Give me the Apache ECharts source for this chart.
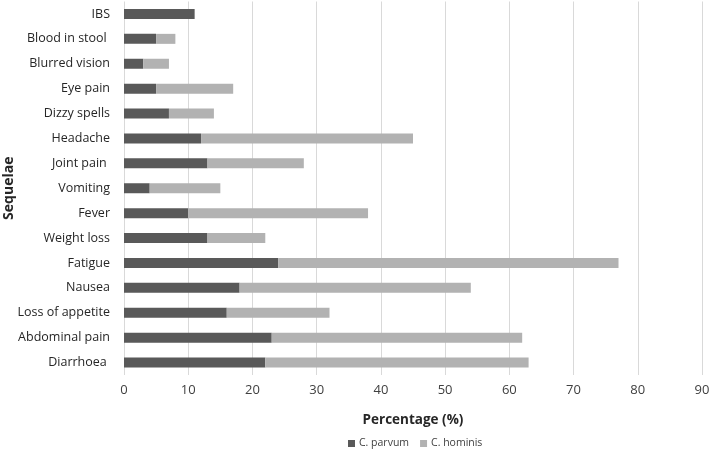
<!DOCTYPE html>
<html><head><meta charset="utf-8">
<script src="https://cdn.jsdelivr.net/npm/echarts@6/dist/echarts.min.js"></script>
<style>html,body{margin:0;padding:0;background:#fff}#c{width:709px;height:449px}</style>
</head><body><div id="c"></div>
<script>
const categories = ['Diarrhoea ', 'Abdominal pain', 'Loss of appetite', 'Nausea', 'Fatigue', 'Weight loss', 'Fever', 'Vomiting', 'Joint pain ', 'Headache', 'Dizzy spells', 'Eye pain', 'Blurred vision', 'Blood in stool ', 'IBS'];
const parvum = [22, 23, 16, 18, 24, 13, 10, 4, 13, 12, 7, 5, 3, 5, 11];
const hominis = [41, 39, 16, 36, 53, 9, 28, 11, 15, 33, 7, 12, 4, 3, 0];
const xTicks = [0, 10, 20, 30, 40, 50, 60, 70, 80, 90];
const font = '"Open Sans", "Liberation Sans", sans-serif';
const chart = echarts.init(document.getElementById('c'));
chart.setOption({
  animation: false,
  textStyle: {fontFamily: font},
  grid: {left: 124, right: 7, top: 1.5, bottom: 74, containLabel: false, outerBoundsMode: 'none'},
  legend: {
    bottom: 0, left: 348, itemWidth: 7, itemHeight: 7, itemGap: 11, padding: 0,
    icon: 'rect',
    textStyle: {fontSize: 10.5, color: '#404040', fontFamily: font, padding: [0, 0, 0, -1]},
    data: ['C. parvum', 'C. hominis']
  },
  xAxis: {
    type: 'value', min: xTicks[0], max: xTicks[xTicks.length - 1], interval: 10,
    name: 'Percentage (%)', nameLocation: 'middle', nameGap: 38, nameMoveOverlap: false,
    nameTextStyle: {fontSize: 13.5, fontWeight: 'bold', color: '#262626', fontFamily: font},
    axisLine: {show: false}, axisTick: {show: false},
    axisLabel: {fontSize: 13, color: '#404040', margin: 9},
    splitLine: {show: true, lineStyle: {color: '#d9d9d9', width: 1}}
  },
  yAxis: {
    type: 'category', data: categories,
    name: 'Sequelae', nameLocation: 'middle', nameGap: 108, nameRotate: 90, nameMoveOverlap: false,
    nameTextStyle: {fontSize: 14, fontWeight: 'bold', color: '#262626', fontFamily: font},
    axisLine: {show: false}, axisTick: {show: false},
    axisLabel: {fontSize: 12.5, color: '#262626', margin: 14},
    splitLine: {show: false}
  },
  series: [
    {name: 'C. parvum', type: 'bar', stack: 'a', data: parvum, barWidth: 10, itemStyle: {color: '#595959'}},
    {name: 'C. hominis', type: 'bar', stack: 'a', data: hominis, barWidth: 10, itemStyle: {color: '#b2b2b2'}}
  ]
});
</script></body></html>
